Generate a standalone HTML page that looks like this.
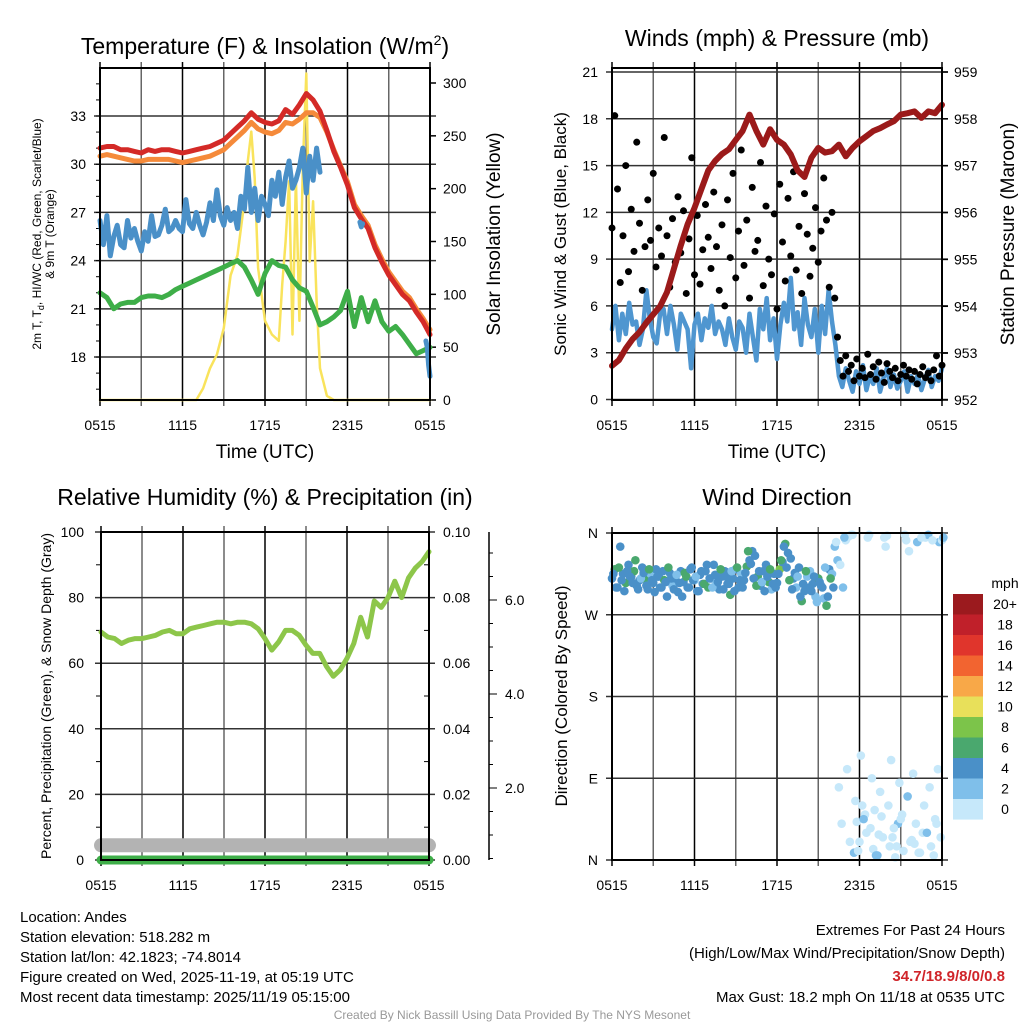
<!DOCTYPE html>
<html><head><meta charset="utf-8"><style>
body{margin:0;background:#fff}
svg{display:block;font-family:"Liberation Sans",sans-serif}
</style></head><body>
<svg id="s" width="1024" height="1024" viewBox="0 0 1024 1024" xmlns="http://www.w3.org/2000/svg">
<rect width="1024" height="1024" fill="#fff"/>
<g id="p1"></g>
<g id="p2"></g>
<g id="p3"></g>
<g id="p4"></g>
<g id="txt" font-size="15" fill="#000">
<text x="265" y="54" font-size="23" text-anchor="middle">Temperature (F) &amp; Insolation (W/m<tspan dy="-9" font-size="14">2</tspan><tspan dy="9">)</tspan></text>
<text x="777" y="46" font-size="23" text-anchor="middle">Winds (mph) &amp; Pressure (mb)</text>
<text x="265" y="505" font-size="23" text-anchor="middle">Relative Humidity (%) &amp; Precipitation (in)</text>
<text x="777" y="505" font-size="23" text-anchor="middle">Wind Direction</text>
<text x="265" y="458" font-size="19" text-anchor="middle">Time (UTC)</text>
<text x="777" y="458" font-size="19" text-anchor="middle">Time (UTC)</text>
<text transform="translate(41,234) rotate(-90)" font-size="12" text-anchor="middle">2m T, T<tspan dy="3" font-size="9">d</tspan><tspan dy="-3">, HI/WC (Red, Green, Scarlet/Blue)</tspan></text>
<text transform="translate(54,234) rotate(-90)" font-size="12" text-anchor="middle">&amp; 9m T (Orange)</text>
<text transform="translate(500,234) rotate(-90)" font-size="19" text-anchor="middle">Solar Insolation (Yellow)</text>
<text transform="translate(566,234) rotate(-90)" font-size="17" text-anchor="middle">Sonic Wind &amp; Gust (Blue, Black)</text>
<text transform="translate(1014,234) rotate(-90)" font-size="19" text-anchor="middle">Station Pressure (Maroon)</text>
<text transform="translate(51,696) rotate(-90)" font-size="14" text-anchor="middle">Percent, Precipitation (Green), &amp; Snow Depth (Gray)</text>
<text transform="translate(567,696) rotate(-90)" font-size="17" text-anchor="middle">Direction (Colored By Speed)</text>
<g>
<text x="20" y="922">Location: Andes</text>
<text x="20" y="942">Station elevation: 518.282 m</text>
<text x="20" y="962">Station lat/lon: 42.1823; -74.8014</text>
<text x="20" y="982">Figure created on Wed, 2025-11-19, at 05:19 UTC</text>
<text x="20" y="1002">Most recent data timestamp: 2025/11/19 05:15:00</text>
</g>
<g text-anchor="end">
<text x="1005" y="935">Extremes For Past 24 Hours</text>
<text x="1005" y="958">(High/Low/Max Wind/Precipitation/Snow Depth)</text>
<text x="1005" y="981" fill="#d0252a" font-weight="bold">34.7/18.9/8/0/0.8</text>
<text x="1005" y="1002">Max Gust: 18.2 mph On 11/18 at 0535 UTC</text>
</g>
<text x="512" y="1019" font-size="12" fill="#999" text-anchor="middle">Created By Nick Bassill Using Data Provided By The NYS Mesonet</text>
</g>
</svg>
<script>
// ---- data (hours since 0515 UTC) ----
const xTickLabels = ["0515","1115","1715","2315","0515"];
const tempRed = [31.0,31.1,31.1,30.9,30.9,30.8,30.7,30.9,30.8,30.9,30.9,30.8,30.7,30.8,30.9,31.0,31.1,31.3,31.5,31.9,32.3,32.7,33.2,32.8,32.6,32.5,32.7,33.4,33.1,33.7,34.4,34.0,33.3,32.1,30.8,29.8,28.7,27.3,26.6,26.0,24.8,23.9,23.1,22.5,21.9,21.5,20.8,20.2,19.4];
const tempOrange = [30.5,30.6,30.5,30.4,30.3,30.2,30.2,30.3,30.3,30.3,30.3,30.2,30.1,30.2,30.3,30.4,30.5,30.7,30.9,31.3,31.7,32.1,32.6,32.2,32.0,31.9,32.1,32.6,32.5,32.8,33.2,33.2,32.9,32.0,30.9,29.9,28.9,27.5,26.8,26.2,25.0,24.1,23.3,22.7,22.1,21.7,21.0,20.4,19.7];
const heatIndex = [26.5,25.0,26.8,24.3,25.5,26.2,25.0,24.8,26.5,25.4,26.0,25.2,24.6,25.8,25.2,26.8,25.5,25.6,26.2,27.2,25.8,26.0,26.5,26.0,25.8,27.8,26.3,26.0,27.0,26.2,25.6,26.4,27.6,26.5,28.4,26.8,26.2,27.3,26.5,27.0,26.0,28.0,27.2,29.8,27.0,28.5,26.5,28.0,27.5,26.8,29.0,28.0,29.5,27.5,29.2,30.2,28.5,29.0,29.8,31.0,28.2,30.5,29.0,31.0,29.5];
const heatIndexLateT = [18.9,19.0,19.1,23.7,23.8,23.9,24.0];
const heatIndexLateV = [26.4,26.1,26.3,19.0,18.6,17.5,16.8];
const dewpoint = [22.0,21.7,21.0,21.3,21.4,21.4,21.7,21.8,21.8,21.7,21.9,22.2,22.4,22.6,22.8,23.0,23.2,23.4,23.6,23.8,24.0,23.6,22.8,21.9,23.2,24.0,23.7,23.6,22.8,22.3,22.1,21.1,20.0,20.2,20.5,20.9,22.1,19.9,21.7,20.2,21.5,20.2,19.6,19.9,19.4,18.8,18.2,18.4,18.6];
const insolT = [0,7,7.5,8,8.5,9,9.5,10,10.5,10.75,11,11.25,11.5,12,12.5,13,13.25,13.5,13.75,14,14.25,14.5,14.75,15,15.25,15.5,15.75,16,16.5,17,24];
const insolV = [0,0,11,30,43,68,118,137,188,226,254,210,125,75,62,56,109,150,207,62,210,75,220,309,131,188,94,30,4,0,0];
const windSpeed = [4.5,6.0,3.8,5.5,4.2,6.2,4.8,5.0,3.5,4.5,7.0,5.2,4.0,3.6,5.5,5.8,4.2,6.0,4.8,3.2,5.5,5.0,4.5,2.0,4.8,5.5,3.8,5.2,4.6,6.0,4.2,5.0,4.5,3.5,5.2,4.0,3.2,5.0,4.6,3.0,5.5,4.0,2.5,5.8,4.5,6.5,3.8,5.2,2.6,4.8,6.2,5.0,7.8,4.5,5.6,3.5,6.5,4.8,4.0,5.8,3.0,6.0,4.2,7.0,5.0,3.5,1.5,0.8,2.0,1.2,0.5,1.8,1.0,2.2,0.6,1.5,1.0,2.0,0.5,1.4,2.0,0.8,1.6,0.7,1.2,1.8,0.5,1.5,1.0,1.6,0.6,1.3,1.9,0.8,1.5,1.2,2.0];
const windGust = [11.0,18.2,13.5,7.5,10.5,15.0,8.2,12.2,9.5,16.5,11.3,7.0,9.8,12.8,10.2,14.5,8.5,11.0,9.2,16.8,10.5,7.2,11.6,8.8,13.0,9.4,12.1,6.8,10.3,15.5,8.0,11.8,7.4,9.6,12.5,10.4,8.4,13.3,9.8,7.0,11.2,6.0,12.8,9.1,14.5,7.8,10.8,16.0,8.6,11.5,6.5,13.6,9.5,10.2,15.2,7.3,12.4,9.0,8.0,11.9,5.8,13.8,10.1,7.6,12.9,9.2,14.6,8.3,11.1,6.8,13.2,10.6,7.9,9.7,12.3,8.8,10.8,14.2,11.5,7.2,12.0,6.5,4.0,2.5,1.5,2.8,1.8,2.2,1.2,2.6,1.5,2.0,1.4,2.9,1.6,2.1,1.3,2.4,1.7,1.1,2.3,1.8,1.4,2.0,1.2,1.6,2.2,1.5,1.9,1.3,1.8,1.0,1.6,2.1,1.4,1.7,1.2,1.9,2.8,1.5,2.2];
const pressure = [952.73,952.85,953.1,953.3,953.45,953.65,953.83,954.0,954.3,954.8,955.3,955.75,956.1,956.5,956.9,957.1,957.25,957.35,957.55,957.74,958.09,957.74,957.45,957.78,957.55,957.45,957.24,956.9,956.76,957.17,957.38,957.28,957.31,957.45,957.2,957.38,957.52,957.63,957.74,957.8,957.88,957.95,958.09,958.12,958.16,958.02,958.16,958.12,958.3];
const humidity = [69.5,68,67.5,66,67,67.5,67.5,68,68.5,69.5,70,69,69,70.5,71,71.5,72,72.5,72.5,72,72.5,72.5,72,70.5,67.5,64,66.5,70,70,68.5,65.5,63,63,59,56,58,61.5,66,74,68,79,77,80,85,80,86,89,91,94];
const precip = [0,0];
const snowDepth = [0.8,0.8];
const dirDeg = [310,320,300,345,315,305,325,312,318,302,308,322,310,298,315,305,320,312,300,308,290,316,302,310,295,318,306,312,300,322,308,296,314,304,318,300,310,325,306,298,312,318,304,292,310,320,300,315,308,323,330,340,335,312,302,318,325,306,298,315,305,320,328,348,338,332,310,300,322,285,296,312,318,304,290,310,302,288,280,320,315,345,330,325,300,352,356,358,8,42,20,60,50,355,35,12,5,28,48,355,357,15,25,3,40,45,10,352,340,22,18,350,8,30,355,358,15,5,40,350,352];
const dirSpeed = [4,7,4,5,4,6,4,4,7,4,4,5,6,4,3,4,5,4,4,6,4,4,2,4,5,4,4,6,4,4,3,4,4,5,4,7,4,4,2,4,5,4,4,6,4,4,4,3,4,6,4,5,4,7,4,4,4,6,2,4,4,8,4,6,4,4,4,3,4,6,4,3,2,4,2,6,4,2,6,4,3,2,2,1,2,1,0,0,2,0,1,0,0,0,0,1,2,0,0,1,0,1,0,0,2,0,1,0,0,0,1,3,0,0,1,2,0,0,0,2,1];
const dirDeg2 = [315,300,322,308,296,318,312,305,330,298,310,316,302,320,308,295,312,300,318,306,322,310,298,314,305,290,316,300,320,308,312,296,318,304,325,310,300,314,306,320,298,312,304,318,296,322,308,300,316,340,326,310,302,318,306,296,312,320,304,300,315,330,345,322,308,298,316,312,290,304,318,300,296,312,284,306,300,322,290,310,300,350,80,40,355,100,20,358,65,10,115,45,30,358,90,55,5,75,25,345,60,110,35,15,85,50,358,70,20,95,40,8,355,60,30,80,352,45,100,25,355];
const dirSpeed2 = [4,4,6,4,4,5,4,4,6,4,3,4,4,6,4,4,5,4,4,4,6,4,4,2,4,4,6,4,4,4,2,4,4,6,4,4,3,4,4,6,4,4,4,2,4,6,4,4,4,6,4,4,6,4,2,4,4,6,4,4,4,6,4,4,6,4,4,2,4,4,6,4,4,4,3,4,4,2,4,6,4,0,0,1,2,0,0,0,1,0,0,2,0,0,1,0,2,0,0,1,0,0,0,1,0,0,0,2,0,0,1,0,0,0,2,0,0,1,0,0,3];
const cbarLabels = ["20+","18","16","14","12","10","8","6","4","2","0"];
const cbarColors = ["#9b1a1e","#c0202a","#e0352c","#f26430","#f8a848","#e8e05a","#7cc44a","#4aa86e","#4a90c8","#7fbfea","#c6e8fa"];

const NS="http://www.w3.org/2000/svg";
function mk(parent,tag,attrs){const e=document.createElementNS(NS,tag);for(const k in attrs)e.setAttribute(k,attrs[k]);parent.appendChild(e);return e;}
function lin(d0,d1,r0,r1){return v=>r0+(v-d0)*(r1-r0)/(d1-d0);}

function frame(g,x0,x1,y0,y1){
  const xs=lin(0,24,x0,x1);
  for(let h=0;h<=24;h+=3){
    const x=xs(h);
    const l=mk(g,'line',{x1:x,x2:x,y1:y0-6,y2:y1+6,stroke:h%6===0?'#000':'#666','stroke-width':1.5});
    
    
  }
  xTickLabels.forEach((t,i)=>{
    const tx=mk(g,'text',{x:xs(i*6),y:y1+30,'font-size':14,'text-anchor':'middle'});
    tx.textContent=t;
    
    
  });
  return xs;
}
function hgrid(g,x0,x1,y){
  const l=mk(g,'line',{x1:x0-6,x2:x1+6,y1:y,y2:y,stroke:'#333','stroke-width':1.5});
  
  
}
function label(g,x,y,t,anchor,name){
  const tx=mk(g,'text',{x:x,y:y+5,'font-size':14,'text-anchor':anchor});
  tx.textContent=t;
  
  
}
function border(g,x0,x1,y0,y1){
  const r=mk(g,'rect',{x:x0,y:y0,width:x1-x0,height:y1-y0,fill:'none',stroke:'#000','stroke-width':2});
  
  
}
function path(g,xsArr,ysArr,color,w,name){
  let d='';xsArr.forEach((x,i)=>{d+=(i?'L':'M')+x.toFixed(1)+' '+ysArr[i].toFixed(1);});
  const p=mk(g,'path',{d:d,fill:'none',stroke:color,'stroke-width':w,'stroke-linejoin':'round','stroke-linecap':'round'});
  
  
  return p;
}
const step=(arr,s)=>arr.map((_,i)=>i*s);

// ---- Panel 1 ----
(function(){
  const g=document.getElementById('p1');
  const x0=100,x1=430,y0=68,y1=400;
  const xs=frame(g,x0,x1,y0,y1);
  const ys=lin(33,18,116,357.05);
  const yr=lin(0,300,400,83);
  [18,21,24,27,30,33].forEach(v=>{hgrid(g,x0,x1,ys(v));label(g,86,ys(v),String(v),'end','y-tick-label-left');});
  for(let v=16;v<=35;v++){const l=mk(g,'line',{x1:x0-4,x2:x0,y1:ys(v),y2:ys(v),stroke:'#000'});}
  for(let v=0;v<=300;v+=50){const l=mk(g,'line',{x1:x1,x2:x1+6,y1:yr(v),y2:yr(v),stroke:'#000','stroke-width':1.5});label(g,443,yr(v),String(v),'start','y-tick-label-right');}
  path(g,insolT.map(xs),insolV.map(yr),'#f9e35c',2.5,'insolation-line');
  path(g,step(dewpoint,0.5).map(xs),dewpoint.map(ys),'#3eae48',5,'dewpoint-line');
  path(g,step(heatIndex,0.25).map(xs),heatIndex.map(ys),'#4a90c8',5,'heat-index-line');
  path(g,step(tempOrange,0.5).map(xs),tempOrange.map(ys),'#f58a3a',5,'temp-9m-line');
  path(g,step(tempRed,0.5).map(xs),tempRed.map(ys),'#d42a27',5,'temp-2m-line');
  path(g,heatIndexLateT.slice(0,3).map(xs),heatIndexLateV.slice(0,3).map(ys),'#4a90c8',5,'heat-index-late');
  path(g,heatIndexLateT.slice(3).map(xs),heatIndexLateV.slice(3).map(ys),'#4a90c8',5,'heat-index-end');
  border(g,x0,x1,y0,y1);
})();

// ---- Panel 2 ----
(function(){
  const g=document.getElementById('p2');
  const x0=612,x1=942,y0=68,y1=400;
  const xs=frame(g,x0,x1,y0,y1);
  const ys=lin(0,21,399.5,72);
  const yr=lin(952,959,400,72);
  for(let v=0;v<=21;v+=3){hgrid(g,x0,x1,ys(v));label(g,598,ys(v),String(v),'end','y-tick-label-left');}
  for(let v=952;v<=959;v++){const l=mk(g,'line',{x1:x1,x2:x1+6,y1:yr(v),y2:yr(v),stroke:'#000','stroke-width':1.5});label(g,954,yr(v),String(v),'start','y-tick-label-right');}
  path(g,step(windSpeed,0.25).map(xs),windSpeed.map(ys),'#4f96d0',4.5,'wind-speed-line');
  windGust.forEach((v,i)=>{
    const c=mk(g,'circle',{cx:xs(i*0.2),cy:ys(v),r:3.5,fill:'#000'});
    
    
  });
  path(g,step(pressure,0.5).map(xs),pressure.map(yr),'#9b1a1a',6,'pressure-line');
  border(g,x0,x1,y0,y1);
})();

// ---- Panel 3 ----
(function(){
  const g=document.getElementById('p3');
  const x0=101,x1=429,y0=532,y1=860;
  const xs=frame(g,x0,x1,y0,y1);
  const ys=lin(0,100,860,532);
  const yp=lin(0,0.1,860,532);
  for(let v=0;v<=100;v+=20){hgrid(g,x0,x1,ys(v));label(g,84,ys(v),String(v),'end','y-tick-label-left');}
  for(let v=10;v<100;v+=20){const l=mk(g,'line',{x1:x0-5,x2:x0,y1:ys(v),y2:ys(v),stroke:'#000'});}
  for(let i=0;i<=5;i++){const v=i*0.02;label(g,443,yp(v),v.toFixed(2),'start','y-tick-label-precip');}
  for(let v=0.01;v<0.1;v+=0.02){const l=mk(g,'line',{x1:x1-5,x2:x1,y1:yp(v),y2:yp(v),stroke:'#000'});}
  const ax=mk(g,'line',{x1:489,x2:489,y1:532,y2:860,stroke:'#000','stroke-width':1.5});
  
  const ysn=lin(0,2,882,788);
  for(let v=0.5;v<=7;v+=0.5){const y=ysn(v);if(y<532||y>860)continue;const l=mk(g,'line',{x1:489,x2:489+(v%2===0?8:4),y1:y,y2:y,stroke:'#000'});}
  [2,4,6].forEach(v=>label(g,505,ysn(v),v.toFixed(1),'start','y-tick-label-snow'));
  path(g,[x0,x1],snowDepth.map(v=>ys(v*5.6)),'#b3b3b3',14,'snow-depth-line');
  path(g,[x0,x1],precip.map(yp),'#3eae48',9,'precip-line');
  path(g,step(humidity,0.5).map(xs),humidity.map(ys),'#8dc64a',5,'humidity-line');
  border(g,x0,x1,y0,y1);
})();

// ---- Panel 4 ----
(function(){
  const g=document.getElementById('p4');
  const x0=612,x1=942,y0=533,y1=860;
  const xs=frame(g,x0,x1,y0,y1);
  const ys=lin(0,360,860,533);
  ['N','E','S','W','N'].forEach((t,i)=>{hgrid(g,x0,x1,ys(i*90));label(g,598,ys(i*90),t,'end','direction-tick-label');});
  function col(s){let b=Math.min(10,Math.floor(s/2));return cbarColors[10-b];}
  dirDeg.forEach((d,i)=>{
    const c=mk(g,'circle',{cx:xs(i*0.2),cy:ys(d),r:4.3,fill:col(dirSpeed[i])});
    
    
  });
  dirDeg2.forEach((d,i)=>{
    const c=mk(g,'circle',{cx:xs(i*0.2+0.1),cy:ys(d),r:4.3,fill:col(dirSpeed2[i])});
    
    
  });
  border(g,x0,x1,y0,y1);
  const cb=mk(g,'g',{});
  
  
  const mp=mk(cb,'text',{x:1005,y:588,'font-size':14,'text-anchor':'middle'});mp.textContent='mph';
  
  cbarColors.forEach((c,i)=>{
    const r=mk(cb,'rect',{x:953,y:594+i*20.5,width:30,height:20.6,fill:c});
    
    
    const t=mk(cb,'text',{x:1005,y:594+i*20.5+15,'font-size':14,'text-anchor':'middle'});
    t.textContent=cbarLabels[i];
    
    
  });
})();
</script>
</body></html>
